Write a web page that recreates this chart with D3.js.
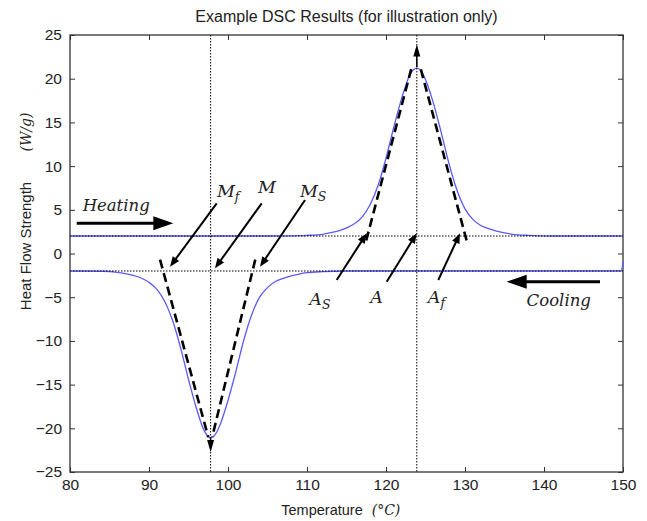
<!DOCTYPE html>
<html>
<head>
<meta charset="utf-8">
<script src="https://cdn.jsdelivr.net/npm/d3@7"></script>
<style>
  body { margin: 0; background: #fff; }
  text { font-family: "Liberation Sans", Arial, sans-serif; fill: #222; }
  .math { font-family: "DejaVu Serif", serif; font-style: italic; }
</style>
</head>
<body>
<svg id="chart"></svg>
<script>
// heating trace (upper) and cooling trace (lower)
const heatT = [80, 105, 108, 110, 112, 113, 114, 115, 116, 117, 118, 119, 120, 121, 122, 123, 123.9, 124.7, 125, 126, 127, 128, 129, 130, 131, 132, 133, 134, 135, 136, 138, 141, 150];
const heatQ = [2, 2, 2.02, 2.07, 2.2, 2.38, 2.6, 2.93, 3.4, 4.2, 5.6, 7.8, 10.9, 14.5, 17.8, 20.4, 21.2, 20.5, 19.9, 17.2, 13.8, 10.2, 7.2, 5.1, 3.9, 3.2, 2.85, 2.55, 2.35, 2.2, 2.07, 2, 2];
const coolT = [80, 84, 86, 87, 88, 89, 90, 91, 92, 93, 94, 95, 96, 97, 97.8, 98.6, 99, 100, 101, 102, 103, 104, 105, 106, 107, 108, 109, 110, 112, 115, 149.8, 150];
const coolQ = [-2, -2.03, -2.15, -2.3, -2.5, -2.8, -3.3, -4.1, -5.5, -7.7, -10.8, -14.4, -17.7, -20.3, -21.1, -20.4, -19.6, -16.8, -13.5, -9.9, -7.0, -5.0, -3.9, -3.2, -2.85, -2.55, -2.35, -2.2, -2.07, -2, -2, -0.9];

const xTicks = [80, 90, 100, 110, 120, 130, 140, 150];
const yTicks = [-25, -20, -15, -10, -5, 0, 5, 10, 15, 20, 25];

// reference lines
const baselines = [2, -2];
const peakTemps = [97.8, 123.9];

// tangent (dashed) lines: [T1, Q1, T2, Q2]
const tangents = [
  [117.5, 1.5, 123.25, 21.3],
  [130.2, 1.5, 124.3, 21.45],
  [91.4, -0.7, 97.5, -21.0],
  [103.45, -0.7, 98.0, -21.0]
];
// peak arrows [T, from, to]
const peakArrows = [[123.9, 21.3, 23.9], [97.8, -21.1, -22.7]];

// annotation pointers [T1, Q1, T2(tip), Q2(tip)]
const pointers = [
  [98.57, 5.74, 92.66, -1.51],
  [104.27, 5.74, 98.35, -1.69],
  [109.75, 6.12, 104.05, -1.51],
  [113.76, -3.03, 117.56, 2.31],
  [120.09, -3.23, 123.89, 2.31],
  [126.62, -3.03, 129.37, 2.31]
];
const pointerLabels = [
  ["M", "f", 98.6, 6.5],
  ["M", "", 103.8, 6.9],
  ["M", "S", 109.1, 6.5],
  ["A", "S", 110.3, -5.9],
  ["A", "", 118.0, -5.7],
  ["A", "f", 125.3, -5.7]
];
// direction arrows
const dirArrows = [
  ["Heating", 80.85, 3.46, 93.08, 3.46, 81.6, 4.85],
  ["Cooling", 147.09, -3.23, 135.28, -3.23, 137.8, -6.0]
];

const W = 647, H = 521;
const margin = { top: 35, right: 24, bottom: 49, left: 70 };

const svg = d3.select("#chart").attr("width", W).attr("height", H);

const x = d3.scaleLinear().domain([80, 150]).range([margin.left, W - margin.right]);
const y = d3.scaleLinear().domain([-25, 25]).range([H - margin.bottom, margin.top]);

// title
svg.append("text")
  .attr("x", (x(80) + x(150)) / 2).attr("y", 22)
  .attr("text-anchor", "middle").attr("font-size", 16)
  .text("Example DSC Results (for illustration only)");

// axes, ticks inward on all sides
svg.append("g").attr("transform", `translate(0,${y(-25)})`)
  .call(d3.axisBottom(x).tickValues(xTicks).tickSize(-5).tickPadding(7));
svg.append("g").attr("transform", `translate(0,${y(25)})`)
  .call(d3.axisTop(x).tickValues(xTicks).tickSize(-5).tickFormat(""));
svg.append("g").attr("transform", `translate(${x(80)},0)`)
  .call(d3.axisLeft(y).tickValues(yTicks).tickSize(-5).tickPadding(8));
svg.append("g").attr("transform", `translate(${x(150)},0)`)
  .call(d3.axisRight(y).tickValues(yTicks).tickSize(-5).tickFormat(""));

svg.selectAll(".domain").remove();
svg.selectAll(".tick line").attr("stroke", "#333");
svg.selectAll(".tick text").attr("font-size", 15.5).attr("fill", "#222")
  .attr("font-family", "Liberation Sans, Arial, sans-serif");

svg.append("rect")
  .attr("x", x(80)).attr("y", y(25))
  .attr("width", x(150) - x(80)).attr("height", y(-25) - y(25))
  .attr("fill", "none").attr("stroke", "#333").attr("stroke-width", 1.3);

// axis labels
svg.append("text")
  .attr("x", 322).attr("y", 515).attr("text-anchor", "middle").attr("font-size", 14.5)
  .text("Temperature");
svg.append("text").attr("class", "math")
  .attr("x", 386).attr("y", 515).attr("text-anchor", "middle").attr("font-size", 14)
  .text("(°C)");
svg.append("text")
  .attr("transform", "translate(31,246) rotate(-90)")
  .attr("text-anchor", "middle").attr("font-size", 15)
  .text("Heat Flow Strength");
svg.append("text").attr("class", "math")
  .attr("transform", "translate(31,132) rotate(-90)")
  .attr("text-anchor", "middle").attr("font-size", 14)
  .text("(W/g)");

const plot = svg.append("g");

// blue traces
const line = d3.line().x(d => x(d[0])).y(d => y(d[1])).curve(d3.curveMonotoneX);
plot.append("path").datum(heatT.map((t, i) => [t, heatQ[i]]))
  .attr("d", line).attr("fill", "none").attr("stroke", "#5a5aff").attr("stroke-width", 1.3);
plot.append("path").datum(coolT.map((t, i) => [t, coolQ[i]]))
  .attr("d", line).attr("fill", "none").attr("stroke", "#5a5aff").attr("stroke-width", 1.3);

// dotted reference lines
plot.selectAll("line.base").data(baselines).enter().append("line")
  .attr("x1", x(80)).attr("x2", x(150))
  .attr("y1", d => y(d)).attr("y2", d => y(d))
  .attr("stroke", "#000").attr("stroke-width", 1).attr("stroke-dasharray", "1.5,1.5");
plot.selectAll("line.peak").data(peakTemps).enter().append("line")
  .attr("x1", d => x(d)).attr("x2", d => x(d))
  .attr("y1", y(25)).attr("y2", y(-25))
  .attr("stroke", "#000").attr("stroke-width", 1).attr("stroke-dasharray", "1.5,1.5");

// dashed tangents
plot.selectAll("line.tan").data(tangents).enter().append("line")
  .attr("x1", d => x(d[0])).attr("y1", d => y(d[1]))
  .attr("x2", d => x(d[2])).attr("y2", d => y(d[3]))
  .attr("stroke", "#000").attr("stroke-width", 2.6).attr("stroke-dasharray", "9,5");

function arrow(g, x1, y1, x2, y2, len, half, width) {
  const dx = x2 - x1, dy = y2 - y1, L = Math.hypot(dx, dy);
  const ux = dx / L, uy = dy / L;
  const bx = x2 - ux * len, by = y2 - uy * len;
  g.append("line").attr("x1", x1).attr("y1", y1).attr("x2", bx + ux).attr("y2", by + uy)
    .attr("stroke", "#000").attr("stroke-width", width);
  g.append("path")
    .attr("d", `M${x2},${y2}L${bx - uy * half},${by + ux * half}L${bx + uy * half},${by - ux * half}Z`)
    .attr("fill", "#000");
}

peakArrows.forEach(d => arrow(plot, x(d[0]), y(d[1]), x(d[0]), y(d[2]), 12, 3.5, 1.5));
pointers.forEach(d => arrow(plot, x(d[0]), y(d[1]), x(d[2]), y(d[3]), 10, 4, 2));

pointerLabels.forEach(d => {
  const t = svg.append("text").attr("class", "math")
    .attr("x", x(d[2])).attr("y", y(d[3])).attr("font-size", 17.5);
  t.append("tspan").text(d[0]);
  if (d[1]) t.append("tspan").attr("dy", 4).attr("font-size", 12.5).text(d[1]);
});

dirArrows.forEach(d => {
  arrow(plot, x(d[1]), y(d[2]), x(d[3]), y(d[4]), 20, 7, 3);
  svg.append("text").attr("class", "math")
    .attr("x", x(d[5])).attr("y", y(d[6])).attr("font-size", 16.5)
    .text(d[0]);
});
</script>
</body>
</html>
